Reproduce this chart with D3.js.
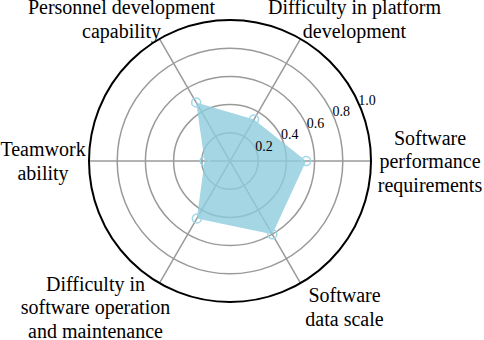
<!DOCTYPE html>
<html>
<head>
<meta charset="utf-8">
<script src="https://cdn.jsdelivr.net/npm/d3@7"></script>
<style>
  body { margin: 0; background: #fff; }
</style>
</head>
<body>
<svg width="484" height="340"></svg>
<script>
// axes go counter-clockwise starting from the right
var categories = [
  ["Software", "performance", "requirements"],
  ["Difficulty in platform", "development"],
  ["Personnel development", "capability"],
  ["Teamwork", "ability"],
  ["Difficulty in", "software operation", "and maintenance"],
  ["Software", "data scale"]
];
var values = [0.54, 0.34, 0.48, 0.18, 0.47, 0.60];
var ringTicks = [0.2, 0.4, 0.6, 0.8, 1.0];

var svg = d3.select("svg")
    .attr("font-family", "'Liberation Serif', 'Times New Roman', 'DejaVu Serif', serif");
var cx = 230, cy = 161, R = 141;

var r = d3.scaleLinear().domain([0, 1]).range([0, R]);
var angle = d3.scaleLinear().domain([0, categories.length]).range([0, 2 * Math.PI]);

function px(i, v) { return cx + r(v) * Math.cos(angle(i)); }
function py(i, v) { return cy - r(v) * Math.sin(angle(i)); }

var g = svg.append("g");

// grid rings
g.selectAll(".ring")
    .data(ringTicks.filter(function(d) { return d < 1; }))
  .enter().append("circle")
    .attr("class", "ring")
    .attr("cx", cx).attr("cy", cy)
    .attr("r", function(d) { return r(d); })
    .attr("fill", "none")
    .attr("stroke", "#9a9a9a")
    .attr("stroke-width", 1.5);

// spokes
g.selectAll(".spoke")
    .data(categories)
  .enter().append("line")
    .attr("class", "spoke")
    .attr("x1", cx).attr("y1", cy)
    .attr("x2", function(d, i) { return px(i, 1); })
    .attr("y2", function(d, i) { return py(i, 1); })
    .attr("stroke", "#9a9a9a")
    .attr("stroke-width", 1.5);

// the filled area
var line = d3.line()
    .x(function(d, i) { return px(i, d); })
    .y(function(d, i) { return py(i, d); })
    .curve(d3.curveLinearClosed);

g.append("path")
    .datum(values)
    .attr("d", line)
    .attr("fill", "rgb(141,204,221)")
    .attr("fill-opacity", 0.8)
    .attr("stroke", "none");

// markers
g.selectAll(".pt")
    .data(values)
  .enter().append("circle")
    .attr("class", "pt")
    .attr("cx", function(d, i) { return px(i, d); })
    .attr("cy", function(d, i) { return py(i, d); })
    .attr("r", 4.5)
    .attr("fill", "none")
    .attr("stroke", "rgb(160,215,232)")
    .attr("stroke-width", 1.5);

// outer border
g.append("circle")
    .attr("cx", cx).attr("cy", cy)
    .attr("r", r(1))
    .attr("fill", "none")
    .attr("stroke", "#000")
    .attr("stroke-width", 2);

// radial tick labels
var tickAngle = 24 * Math.PI / 180;
g.selectAll(".tick")
    .data(ringTicks)
  .enter().append("text")
    .attr("class", "tick")
    .attr("x", function(d) { return cx + (r(d) + 9) * Math.cos(tickAngle); })
    .attr("y", function(d) { return cy - (r(d) + 9) * Math.sin(tickAngle); })
    .attr("dy", "0.35em")
    .attr("text-anchor", "middle")
    .style("font-size", "14px")
    .text(function(d) { return d3.format(".1f")(d); });

// category labels, pushed out from the border and squeezed to fit the page
var nudge = [[15, 0], [32, 18], [-16, 18], [-2, 0], [-42, -14], [22, -14]];
var labelR = R + 44, lh = 23.5;
var labels = g.selectAll(".cat")
    .data(categories)
  .enter().append("text")
    .attr("class", "cat")
    .attr("text-anchor", "middle")
    .style("font-size", "20px")
    .attr("transform", function(d, i) {
      var x = cx + labelR * Math.cos(angle(i)) + nudge[i][0];
      var y = cy - labelR * Math.sin(angle(i)) + nudge[i][1];
      return "translate(" + x + "," + y + ")";
    });

labels.selectAll("tspan")
    .data(function(d) { return d; })
  .enter().append("tspan")
    .attr("x", 0)
    .attr("y", function(d, j, nodes) {
      var n = nodes.length;
      return (j - (n - 1) / 2) * lh;
    })
    .attr("dy", "0.35em")
    .text(function(d) { return d; });
</script>
</body>
</html>
